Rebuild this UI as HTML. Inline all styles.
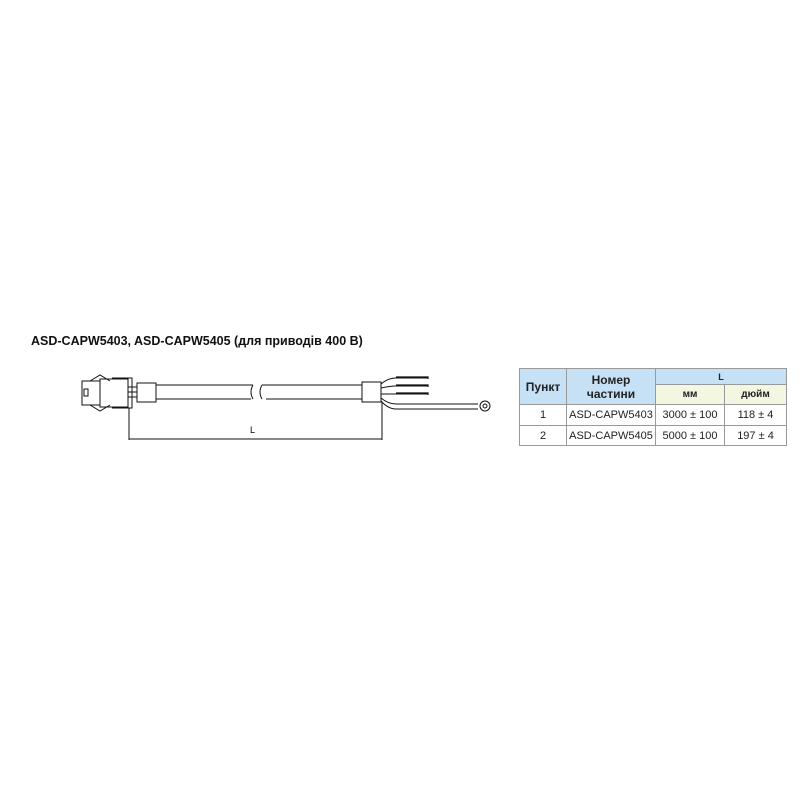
<!DOCTYPE html>
<html><head><meta charset="utf-8"><style>
body{margin:0;width:800px;height:800px;background:#fff;position:relative;font-family:"Liberation Sans","DejaVu Sans",sans-serif;}
.t{position:absolute;left:31px;top:334px;font-size:12.5px;font-weight:bold;color:#111;white-space:nowrap}
table{position:absolute;left:519px;top:368px;border-collapse:collapse;font-size:11px;color:#222}
td{border:1px solid #999;text-align:center;padding:0}
.h{background:#c6e0f5;font-weight:bold;font-size:12px}
.s{background:#f3f6e0;font-weight:bold;font-size:10px}
</style></head><body>
<div class="t">ASD-CAPW5403, ASD-CAPW5405 (для приводів 400 В)</div>
<svg width="800" height="800" style="position:absolute;left:0;top:0" fill="none" stroke="#111" stroke-width="1">
<!-- connector -->
<rect x="82" y="381" width="18" height="24" fill="#fff"/>
<rect x="84" y="389" width="4" height="7"/>
<rect x="100" y="379" width="28" height="28" fill="#fff"/>
<path d="M90 381 L100 375 L110 381 M90 405 L100 411 L110 405"/>
<path d="M112 378 H132 V408 H112"/>
<path d="M128 387 H137 M128 392 H137 M128 397 H137"/>
<rect x="137" y="383" width="19" height="19" fill="#fff"/>
<!-- cable -->
<path d="M156 385 H253 M156 399 H251 M262 385 H362 M266 399 H362"/>
<path d="M253 385 q-4 7 0 14 M262 385 q-4 7 0 14"/>
<rect x="362" y="382" width="19" height="20" fill="#fff"/>
<!-- wires -->
<path d="M381 384 Q388 378 396 378 H428 M381 388 Q390 386 396 386 H428 M381 394 Q390 394 396 394 H428"/>
<path d="M396 377 H428 V379 M396 385 H428 V387 M396 393 H428 V395" stroke-width="1.2"/>
<path d="M381 398 Q388 404 396 404 H478 M381 401 Q388 409 396 409 H478"/>
<circle cx="485" cy="406" r="5" fill="#fff"/><circle cx="485" cy="406" r="2"/>
<!-- dimension -->
<path d="M129 408 V440 M382 402 V440 M129 439 H382"/>
</svg>
<div style="position:absolute;left:250px;top:425px;font-size:9px">L</div>
<table>
<tr style="height:16px"><td class="h" rowspan="2" style="width:46px">Пункт</td><td class="h" rowspan="2" style="width:88px">Номер<br>частини</td><td class="h" colspan="2" style="font-size:9px">L</td></tr>
<tr style="height:20px"><td class="s" style="width:68px">мм</td><td class="s" style="width:61px">дюйм</td></tr>
<tr style="height:21px"><td>1</td><td>ASD-CAPW5403</td><td>3000 ± 100</td><td>118 ± 4</td></tr>
<tr style="height:20px"><td>2</td><td>ASD-CAPW5405</td><td>5000 ± 100</td><td>197 ± 4</td></tr>
</table>
</body></html>
